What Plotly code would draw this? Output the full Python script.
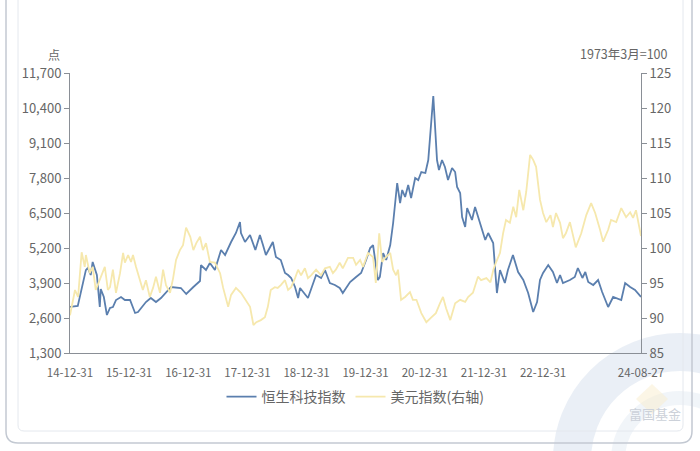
import plotly.graph_objects as go

# ---------------- data ----------------
hstech_dates = [
    "2014-12-31", "2015-02-17", "2015-04-08", "2015-04-20", "2015-05-08", "2015-05-20", "2015-06-15",
    "2015-07-03", "2015-07-09", "2015-07-28", "2015-08-16", "2015-09-04", "2015-09-22", "2015-10-11",
    "2015-11-11", "2015-12-05", "2016-01-06", "2016-02-06", "2016-02-24", "2016-04-13", "2016-05-13",
    "2016-06-14", "2016-07-15", "2016-09-15", "2016-11-15", "2016-12-18", "2017-01-31", "2017-03-13",
    "2017-03-19", "2017-04-19", "2017-05-13", "2017-06-13", "2017-07-21", "2017-08-15", "2017-09-21",
    "2017-10-21", "2017-11-15", "2017-11-21", "2017-12-16", "2018-01-16", "2018-02-18", "2018-03-18",
    "2018-04-06", "2018-04-24", "2018-06-06", "2018-06-25", "2018-07-25", "2018-08-20", "2018-09-08",
    "2018-09-27", "2018-10-21", "2018-11-09", "2018-11-21", "2019-01-09", "2019-02-28", "2019-03-31",
    "2019-04-24", "2019-05-24", "2019-06-24", "2019-07-24", "2019-08-12", "2019-09-26", "2019-11-02",
    "2019-12-03", "2020-01-03", "2020-01-28", "2020-02-15", "2020-03-16", "2020-03-28", "2020-04-17",
    "2020-05-06", "2020-05-31", "2020-06-18", "2020-07-13", "2020-07-31", "2020-08-13", "2020-08-31",
    "2020-09-19", "2020-10-07", "2020-11-01", "2020-11-20", "2020-12-09", "2021-01-03", "2021-01-21",
    "2021-02-21", "2021-03-16", "2021-03-28", "2021-04-16", "2021-05-04", "2021-05-23", "2021-06-17",
    "2021-07-06", "2021-07-18", "2021-08-06", "2021-08-18", "2021-09-06", "2021-09-18", "2021-10-18",
    "2021-11-06", "2021-12-07", "2022-01-08", "2022-01-26", "2022-02-26", "2022-03-21", "2022-04-09",
    "2022-05-09", "2022-05-28", "2022-06-28", "2022-07-30", "2022-08-31", "2022-09-30", "2022-10-31",
    "2022-11-24", "2022-12-12", "2022-12-31", "2023-02-01", "2023-03-02", "2023-03-27", "2023-04-15",
    "2023-05-03", "2023-06-15", "2023-07-15", "2023-08-03", "2023-08-31", "2023-09-18", "2023-10-06",
    "2023-11-06", "2023-12-06", "2023-12-31", "2024-02-06", "2024-03-08", "2024-04-27", "2024-05-21",
    "2024-06-21", "2024-07-21", "2024-08-27",
]
hstech_values = [
    3010, 3050, 4380, 4457, 4197, 4680, 4197,
    3010, 3677, 3380, 2711, 2971, 3008, 3268,
    3380, 3268, 3268, 2786, 2823, 3194, 3343,
    3194, 3343, 3751, 3714, 3491, 3751, 3974,
    4568, 4383, 4643, 4383, 5126, 4940, 5423,
    5757, 6165, 5757, 5423, 5683, 5126, 5683,
    5311, 4940, 5423, 4865, 4754, 4271, 4197,
    4086, 3751, 3343, 3714, 3343, 4197, 4086,
    4383, 3900, 3826, 3714, 3528, 3937, 4123,
    4271, 4754, 5200, 5311, 4011, 4123, 5014,
    4754, 5311, 6128, 7614, 6871, 7354, 7094,
    7540, 7057, 7800, 7725, 8022, 7985, 8468,
    10845, 8468, 8097, 8468, 8208, 7725, 8171,
    8022, 7465, 7243, 6351, 5980, 6685, 6240,
    6722, 6128, 5497, 5757, 5385, 3528, 4383,
    3900, 4383, 4940, 4308, 4011, 3528, 2823,
    3194, 4011, 4271, 4568, 4308, 3900, 4197,
    3900, 4011, 4123, 4457, 4086, 4308, 3937,
    3826, 4011, 3565, 3008, 3380, 3268, 3900,
    3751, 3640, 3380,
]

dxy_dates = [
    "2014-12-31", "2015-01-31", "2015-02-19", "2015-03-13", "2015-04-01", "2015-04-08", "2015-05-02",
    "2015-05-20", "2015-06-08", "2015-07-09", "2015-08-03", "2015-08-22", "2015-09-04", "2015-09-22",
    "2015-10-11", "2015-11-05", "2015-11-24", "2015-12-05", "2015-12-25", "2016-01-12", "2016-01-24",
    "2016-02-12", "2016-03-07", "2016-03-25", "2016-04-13", "2016-05-07", "2016-05-27", "2016-06-14",
    "2016-07-09", "2016-07-28", "2016-08-15", "2016-09-09", "2016-09-28", "2016-10-16", "2016-11-09",
    "2016-11-28", "2016-12-17", "2017-01-12", "2017-01-31", "2017-02-18", "2017-03-13", "2017-03-31",
    "2017-04-19", "2017-05-13", "2017-06-13", "2017-07-15", "2017-08-03", "2017-09-03", "2017-09-21",
    "2017-10-21", "2017-11-21", "2017-12-21", "2018-01-16", "2018-02-06", "2018-02-24", "2018-03-24",
    "2018-04-18", "2018-05-06", "2018-05-24", "2018-06-18", "2018-07-06", "2018-07-25", "2018-08-20",
    "2018-09-08", "2018-09-27", "2018-10-21", "2018-11-09", "2018-11-27", "2018-12-21", "2019-01-09",
    "2019-01-28", "2019-02-28", "2019-03-31", "2019-04-24", "2019-05-24", "2019-06-12", "2019-06-30",
    "2019-07-24", "2019-08-12", "2019-09-13", "2019-10-15", "2019-11-02", "2019-11-27", "2019-12-15",
    "2020-01-15", "2020-02-15", "2020-03-03", "2020-03-24", "2020-04-11", "2020-04-30", "2020-05-31",
    "2020-06-18", "2020-07-06", "2020-07-18", "2020-08-06", "2020-08-31", "2020-09-30", "2020-10-18",
    "2020-11-09", "2020-12-09", "2021-01-09", "2021-02-09", "2021-03-09", "2021-04-03", "2021-04-22",
    "2021-05-11", "2021-06-06", "2021-07-06", "2021-08-06", "2021-09-06", "2021-09-24", "2021-10-24",
    "2021-11-24", "2021-12-13", "2022-01-15", "2022-02-09", "2022-02-27", "2022-03-15", "2022-04-09",
    "2022-04-28", "2022-05-16", "2022-06-09", "2022-06-30", "2022-07-18", "2022-08-06", "2022-08-31",
    "2022-09-18", "2022-10-12", "2022-10-31", "2022-11-18", "2022-12-12", "2022-12-31", "2023-01-20",
    "2023-02-15", "2023-03-02", "2023-03-21", "2023-04-15", "2023-05-03", "2023-05-21", "2023-06-15",
    "2023-07-03", "2023-07-21", "2023-08-24", "2023-09-24", "2023-10-24", "2023-11-18", "2023-12-18",
    "2024-01-06", "2024-02-06", "2024-02-24", "2024-03-27", "2024-04-27", "2024-05-27", "2024-06-21",
    "2024-07-09", "2024-07-27", "2024-08-27",
]
dxy_values = [
    90.4, 94.0, 93.0, 99.4, 97.3, 99.0, 96.4,
    97.3, 94.0, 95.9, 97.3, 94.0, 94.4, 96.9,
    93.6, 96.4, 99.3, 97.9, 99.0, 98.0, 99.0,
    97.3, 95.4, 94.0, 95.4, 93.0, 94.3, 95.9,
    93.6, 96.9, 94.7, 93.6, 95.7, 98.3, 99.7,
    100.4, 102.9, 101.6, 99.7, 100.7, 101.6, 99.7,
    100.7, 98.0, 97.9, 96.4, 94.3, 91.6, 93.3,
    94.3, 93.6, 92.6, 91.6, 89.0, 89.4, 89.7,
    90.1, 91.6, 94.0, 94.4, 94.3, 94.7, 95.4,
    94.0, 94.4, 95.7, 96.9, 96.1, 97.1, 95.7,
    96.1, 96.9, 96.1, 97.1, 97.3, 96.4, 96.9,
    97.9, 97.1, 98.6, 98.6, 97.6, 98.3, 97.3,
    99.3, 98.7, 95.0, 102.1, 98.0, 98.6, 99.3,
    96.9, 96.1, 96.9, 92.6, 93.0, 93.7, 92.6,
    92.6, 90.7, 89.4, 90.1, 90.7, 92.1, 93.0,
    91.4, 89.7, 92.1, 92.6, 92.3, 93.0, 93.6,
    95.9, 95.4, 95.7, 95.1, 96.9, 97.9, 99.3,
    102.1, 104.0, 103.6, 105.9, 104.4, 108.3, 105.4,
    108.0, 113.3, 112.6, 111.6, 106.9, 105.0, 103.7,
    104.7, 103.0, 105.0, 103.6, 101.4, 102.1, 103.7,
    102.1, 100.1, 102.1, 104.7, 106.4, 105.0, 102.6,
    100.9, 102.6, 104.0, 103.7, 105.7, 104.4, 105.1,
    104.3, 105.4, 101.7,
]

x_tick_dates = ["2014-12-31", "2015-12-31", "2016-12-31", "2017-12-31", "2018-12-31",
                "2019-12-31", "2020-12-31", "2021-12-31", "2022-12-31", "2024-08-27"]
x_tick_labels = ["14-12-31", "15-12-31", "16-12-31", "17-12-31", "18-12-31",
                 "19-12-31", "20-12-31", "21-12-31", "22-12-31", "24-08-27"]
left_ticks = [1300, 2600, 3900, 5200, 6500, 7800, 9100, 10400, 11700]
right_ticks = [85, 90, 95, 100, 105, 110, 115, 120, 125]

series_names = ["恒生科技指数", "美元指数(右轴)"]

# ---------------- layout helpers ----------------
W, H = 700, 451
PL, PR, PT, PB = 70, 641, 73, 353
FONT = "Noto Sans CJK SC"
TXT = "#666666"
AXC = "#8a8f96"


def px(x):
    return (x - PL) / (PR - PL)


def py(y):
    return (PB - y) / (PB - PT)


def rrect(x0, y0, x1, y1, r):
    return (f"M {px(x0 + r)},{py(y0)} L {px(x1 - r)},{py(y0)} "
            f"Q {px(x1)},{py(y0)} {px(x1)},{py(y0 + r)} "
            f"L {px(x1)},{py(y1 - r)} Q {px(x1)},{py(y1)} {px(x1 - r)},{py(y1)} "
            f"L {px(x0 + r)},{py(y1)} Q {px(x0)},{py(y1)} {px(x0)},{py(y1 - r)} "
            f"L {px(x0)},{py(y0 + r)} Q {px(x0)},{py(y0)} {px(x0 + r)},{py(y0)} Z")


fig = go.Figure()
fig.add_trace(go.Scatter(
    x=dxy_dates, y=dxy_values, name=series_names[1], yaxis="y2",
    mode="lines", line=dict(color="#f6e8ad", width=1.8),
))
fig.add_trace(go.Scatter(
    x=hstech_dates, y=hstech_values, name=series_names[0],
    mode="lines", line=dict(color="#5b7fae", width=1.8),
))

shapes = [
    # watermark rings
    dict(type="circle", xref="paper", yref="paper",
         x0=px(572), x1=px(788), y0=py(568), y1=py(352),
         line=dict(color="rgba(214,224,238,0.5)", width=38), layer="below"),
    dict(type="circle", xref="paper", yref="paper",
         x0=px(618), x1=px(742), y0=py(522), y1=py(398),
         line=dict(color="rgba(220,229,240,0.4)", width=14), layer="below"),
    dict(type="path", xref="paper", yref="paper",
         path=f"M {px(652)},{py(384)} L {px(668)},{py(399)} L {px(652)},{py(414)} L {px(636)},{py(399)} Z",
         line=dict(width=0), fillcolor="rgba(250,238,205,0.5)", layer="below"),
    # outer card
    dict(type="path", xref="paper", yref="paper", path=rrect(6, -20, 692, 443, 12),
         line=dict(color="#c3c9d2", width=1.5), fillcolor="rgba(0,0,0,0)", layer="below"),
    dict(type="path", xref="paper", yref="paper", path=rrect(18, -20, 683, 431, 6),
         line=dict(color="#e4e8ee", width=1), fillcolor="rgba(0,0,0,0)", layer="below"),
]

annotations = [
    dict(text="点", xref="paper", yref="paper", x=px(62), y=py(54), xanchor="right",
         yanchor="middle", showarrow=False, font=dict(family=FONT, size=12, color=TXT)),
    dict(text="1973年3月=100", xref="paper", yref="paper", x=px(670), y=py(53), xanchor="right",
         yanchor="middle", showarrow=False, font=dict(family=FONT, size=12.5, color=TXT)),
    dict(text="富国基金", xref="paper", yref="paper", x=px(655), y=py(413), xanchor="center",
         yanchor="middle", showarrow=False, font=dict(family=FONT, size=13, color="#ccd1d9")),
]

fig.update_layout(
    width=W, height=H,
    margin=dict(l=PL, r=W - PR, t=PT, b=H - PB, pad=0),
    paper_bgcolor="white", plot_bgcolor="rgba(0,0,0,0)",
    font=dict(family=FONT, color=TXT),
    showlegend=True,
    legend=dict(orientation="h", x=0.5, xanchor="center", y=py(397), yanchor="middle",
                font=dict(family=FONT, size=14, color=TXT), traceorder="reversed",
                itemwidth=30, bgcolor="rgba(0,0,0,0)"),
    xaxis=dict(
        type="date", range=["2014-12-31", "2024-08-27"],
        tickvals=x_tick_dates, ticktext=x_tick_labels, ticks="",
        ticklabelstandoff=9,
        showgrid=False, zeroline=False, showline=True, linecolor=AXC, linewidth=1,
        tickfont=dict(family=FONT, size=11.5, color=TXT),
    ),
    yaxis=dict(
        range=[1300, 11700], tickvals=left_ticks,
        ticktext=[f"{v:,}" for v in left_ticks],
        ticks="outside", ticklen=5, tickcolor=AXC,
        showgrid=False, zeroline=False, showline=True, linecolor=AXC, linewidth=1,
        tickfont=dict(family=FONT, size=13, color=TXT),
    ),
    yaxis2=dict(
        range=[85, 125], tickvals=right_ticks, overlaying="y", side="right",
        ticks="outside", ticklen=5, tickcolor=AXC,
        showgrid=False, zeroline=False, showline=True, linecolor=AXC, linewidth=1,
        tickfont=dict(family=FONT, size=13, color=TXT),
    ),
    shapes=shapes,
    annotations=annotations,
)

fig.write_html("out.html")
